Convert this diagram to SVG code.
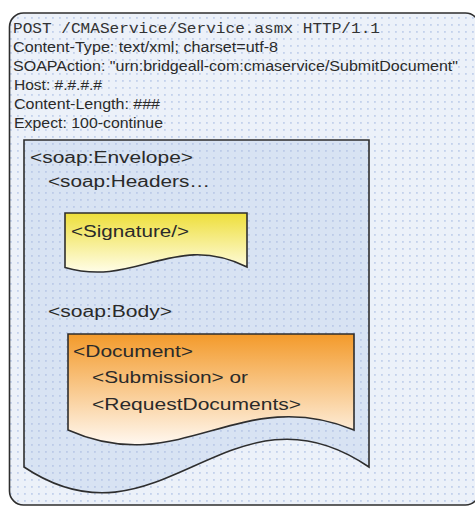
<svg xmlns="http://www.w3.org/2000/svg" width="475" height="509" viewBox="0 0 475 509">
  <style>
    .shape { stroke: #2e2e2e; stroke-width: 1.6; }
    .txt { font-family: "Liberation Sans", Arial, sans-serif; fill: #2a2a2a; }
    .hdr { font-size: 14px; }
    .mono { font-family: "Liberation Mono", "Courier New", monospace; font-size: 15px; fill: #333; }
    .big { font-size: 16px; }
  </style>
  <defs>
    <pattern id="dotsOuter" width="7" height="7" patternUnits="userSpaceOnUse">
      <rect width="7" height="7" fill="#ecf1f9"/>
      <rect x="3" y="3" width="1.8" height="1.8" fill="#c3d1ec"/>
    </pattern>
    <pattern id="dotsInner" width="7" height="7" patternUnits="userSpaceOnUse">
      <rect width="7" height="7" fill="#d8e3f3"/>
      <rect x="3" y="3" width="1.8" height="1.8" fill="#bccbe8"/>
    </pattern>
    <linearGradient id="yellowGrad" x1="0" y1="0" x2="0" y2="1">
      <stop offset="0" stop-color="#eedf3a"/>
      <stop offset="1" stop-color="#fffde8"/>
    </linearGradient>
    <linearGradient id="orangeGrad" x1="0" y1="0" x2="0" y2="1">
      <stop offset="0" stop-color="#f39a2a"/>
      <stop offset="1" stop-color="#fff8f0"/>
    </linearGradient>
  </defs>

  <rect width="475" height="509" fill="#ffffff"/>

  <g id="http-request">
    <rect x="9.5" y="13" width="470" height="492" rx="14" ry="14" fill="url(#dotsOuter)" class="shape"/>
    <text class="mono" x="13" y="33" textLength="367" lengthAdjust="spacingAndGlyphs">POST /CMAService/Service.asmx HTTP/1.1</text>
    <text class="txt hdr" x="13" y="52" textLength="265" lengthAdjust="spacingAndGlyphs">Content-Type: text/xml; charset=utf-8</text>
    <text class="txt hdr" x="13" y="71" textLength="445" lengthAdjust="spacingAndGlyphs">SOAPAction: "urn:bridgeall-com:cmaservice/SubmitDocument"</text>
    <text class="txt hdr" x="14" y="90" textLength="88" lengthAdjust="spacingAndGlyphs">Host: #.#.#.#</text>
    <text class="txt hdr" x="14" y="109" textLength="146" lengthAdjust="spacingAndGlyphs">Content-Length: ###</text>
    <text class="txt hdr" x="14" y="128" textLength="149" lengthAdjust="spacingAndGlyphs">Expect: 100-continue</text>
  </g>

  <g id="envelope">
    <path d="M24,140 H369 V467 C230,372 160,558 24,467 Z" fill="url(#dotsInner)" class="shape"/>
    <text class="txt big" x="30" y="163" textLength="163" lengthAdjust="spacingAndGlyphs">&lt;soap:Envelope&gt;</text>
    <text class="txt big" x="48" y="187" textLength="162" lengthAdjust="spacingAndGlyphs">&lt;soap:Headers…</text>
    <text class="txt big" x="48" y="317" textLength="124" lengthAdjust="spacingAndGlyphs">&lt;soap:Body&gt;</text>
  </g>

  <g id="signature">
    <path d="M65,213 H247 V267 C174,231 136,288 65,267.5 Z" fill="url(#yellowGrad)" class="shape"/>
    <text class="txt big" x="71" y="237" textLength="118" lengthAdjust="spacingAndGlyphs">&lt;Signature/&gt;</text>
  </g>

  <g id="document">
    <path d="M68,334 H354 V430 C240,383 180,480 68,430 Z" fill="url(#orangeGrad)" class="shape"/>
    <text class="txt big" x="73" y="357" textLength="120" lengthAdjust="spacingAndGlyphs">&lt;Document&gt;</text>
    <text class="txt big" x="92" y="383" textLength="156" lengthAdjust="spacingAndGlyphs">&lt;Submission&gt; or</text>
    <text class="txt big" x="92" y="410" textLength="209" lengthAdjust="spacingAndGlyphs">&lt;RequestDocuments&gt;</text>
  </g>

  <g id="connectors"/>
</svg>
